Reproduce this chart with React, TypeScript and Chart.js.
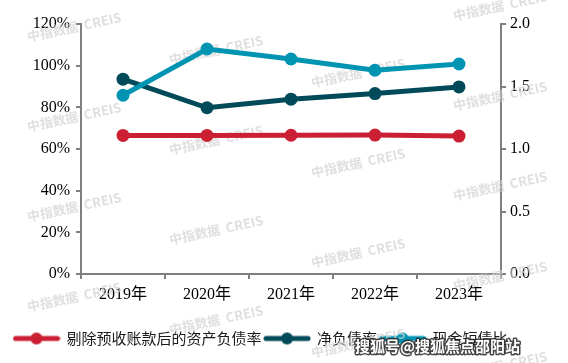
import React, { useEffect, useRef } from "react";
import { Chart, registerables } from "chart.js";

Chart.register(...registerables);

const categories = ["2019年", "2020年", "2021年", "2022年", "2023年"];
const adjustedDebtRatio = [66.5, 66.5, 66.6, 66.7, 66.2];
const netDebtRatio = [93.5, 79.8, 83.9, 86.6, 89.8];
const cashShortDebtRatio = [1.43, 1.8, 1.72, 1.63, 1.68];

const seriesNames = ["剔除预收账款后的资产负债率", "净负债率", "现金短债比"];
const seriesColors = ["#CB2034", "#004A59", "#0094B3"];

const leftTicks = [0, 20, 40, 60, 80, 100, 120];
const rightTicks = [0, 0.5, 1.0, 1.5, 2.0];

const AXIS_COLOR = "#808080";
const TICK_FONT = { family: "'Liberation Serif', 'Noto Sans CJK SC'", size: 16 };

function makeLegendImage(color: string) {
  const c = document.createElement("canvas");
  c.width = 48;
  c.height = 14;
  const ctx = c.getContext("2d")!;
  ctx.strokeStyle = color;
  ctx.lineWidth = 5;
  ctx.lineCap = "round";
  ctx.beginPath();
  ctx.moveTo(3, 7);
  ctx.lineTo(45, 7);
  ctx.stroke();
  ctx.fillStyle = color;
  ctx.beginPath();
  ctx.arc(24, 7, 6, 0, Math.PI * 2);
  ctx.fill();
  return c;
}

const watermarkPlugin = {
  id: "watermarks",
  beforeDatasetsDraw(chart: any) {
    const ctx = chart.ctx;
    ctx.save();
    ctx.font = "bold 13px 'Noto Sans CJK SC', 'DejaVu Sans'";
    ctx.fillStyle = "rgba(210,210,210,0.7)";
    ctx.textAlign = "center";
    ctx.textBaseline = "middle";
    const cols = [74, 216, 358, 500];
    cols.forEach((x, ci) => {
      const base = 27 + ci * 23;
      for (let k = -1; k < 5; k++) {
        const y = base + k * 90;
        if (y < -20 || y > 380) continue;
        ctx.save();
        ctx.translate(x, y);
        ctx.rotate((-12 * Math.PI) / 180);
        ctx.fillText("中指数据  CREIS", 0, 0);
        ctx.restore();
      }
    });
    ctx.restore();
  },
  afterDraw(chart: any) {
    const ctx = chart.ctx;
    ctx.save();
    ctx.font = "bold 15px 'Noto Sans CJK SC'";
    ctx.textAlign = "left";
    ctx.textBaseline = "middle";
    ctx.lineWidth = 3;
    ctx.strokeStyle = "rgba(40,40,40,0.85)";
    ctx.lineJoin = "round";
    ctx.strokeText("搜狐号@搜狐焦点邵阳站", 355, 346);
    ctx.fillStyle = "#ffffff";
    ctx.fillText("搜狐号@搜狐焦点邵阳站", 355, 346);
    ctx.restore();
  },
};

export default function App() {
  const canvasRef = useRef<HTMLCanvasElement | null>(null);

  useEffect(() => {
    if (!canvasRef.current) return;
    const images = seriesColors.map(makeLegendImage);
    const chart = new Chart(canvasRef.current, {
      type: "line",
      data: {
        labels: categories,
        datasets: [
          {
            label: seriesNames[0],
            data: adjustedDebtRatio,
            borderColor: seriesColors[0],
            backgroundColor: seriesColors[0],
            yAxisID: "y",
            order: 2,
          },
          {
            label: seriesNames[1],
            data: netDebtRatio,
            borderColor: seriesColors[1],
            backgroundColor: seriesColors[1],
            yAxisID: "y",
            order: 1,
          },
          {
            label: seriesNames[2],
            data: cashShortDebtRatio,
            borderColor: seriesColors[2],
            backgroundColor: seriesColors[2],
            yAxisID: "y1",
            order: 0,
          },
        ],
      },
      options: {
        animation: false,
        responsive: true,
        maintainAspectRatio: false,
        layout: { padding: { left: 11, right: 0, top: 24, bottom: 7 } },
        elements: {
          line: { borderWidth: 5, tension: 0 },
          point: { radius: 6.5, borderWidth: 0, hoverRadius: 6.5 },
        },
        plugins: {
          tooltip: { enabled: false },
          legend: {
            position: "bottom",
            align: "start",
            labels: {
              usePointStyle: true,
              pointStyleWidth: 45,
              padding: 3,
              color: "#1a1a1a",
              font: { family: "'Noto Sans CJK SC'", size: 15 },
              generateLabels: (ch: any) =>
                ch.data.datasets.map((ds: any, i: number) => ({
                  text: ds.label,
                  pointStyle: images[i],
                  fillStyle: ds.borderColor,
                  strokeStyle: ds.borderColor,
                  lineWidth: 0,
                  hidden: false,
                  datasetIndex: i,
                  fontColor: "#1a1a1a",
                })),
            },
          },
        },
        scales: {
          x: {
            offset: true,
            afterFit: (s: any) => {
              s.height = 54;
            },
            grid: {
              display: true,
              offset: true,
              drawOnChartArea: false,
              drawTicks: true,
              tickLength: 5,
              color: AXIS_COLOR,
              lineWidth: 2,
            },
            border: { color: AXIS_COLOR, width: 2 },
            ticks: { color: "#000", font: TICK_FONT, padding: 6, maxRotation: 0 },
          },
          y: {
            position: "left",
            min: 0,
            max: 120,
            afterFit: (s: any) => {
              s.width = 70;
            },
            afterBuildTicks: (s: any) => {
              s.ticks = leftTicks.map((v) => ({ value: v }));
            },
            grid: {
              display: true,
              drawOnChartArea: false,
              drawTicks: true,
              tickLength: 5,
              color: AXIS_COLOR,
              lineWidth: 2,
            },
            border: { color: AXIS_COLOR, width: 2 },
            ticks: {
              color: "#000",
              font: TICK_FONT,
              padding: 6,
              callback: (v: any) => `${v}%`,
            },
          },
          y1: {
            position: "right",
            min: 0,
            max: 2,
            afterFit: (s: any) => {
              s.width = 67;
            },
            afterBuildTicks: (s: any) => {
              s.ticks = rightTicks.map((v) => ({ value: v }));
            },
            grid: {
              display: true,
              drawOnChartArea: false,
              drawTicks: true,
              tickLength: 5,
              color: AXIS_COLOR,
              lineWidth: 2,
            },
            border: { color: AXIS_COLOR, width: 2 },
            ticks: {
              color: "#000",
              font: TICK_FONT,
              padding: 4,
              callback: (v: any) => Number(v).toFixed(1),
            },
          },
        },
      },
      plugins: [watermarkPlugin],
    } as any);
    return () => chart.destroy();
  }, []);

  return (
    <div
      style={{
        position: "fixed",
        left: 0,
        top: 0,
        width: 568,
        height: 363,
        background: "#ffffff",
      }}
    >
      <canvas ref={canvasRef} />
    </div>
  );
}
